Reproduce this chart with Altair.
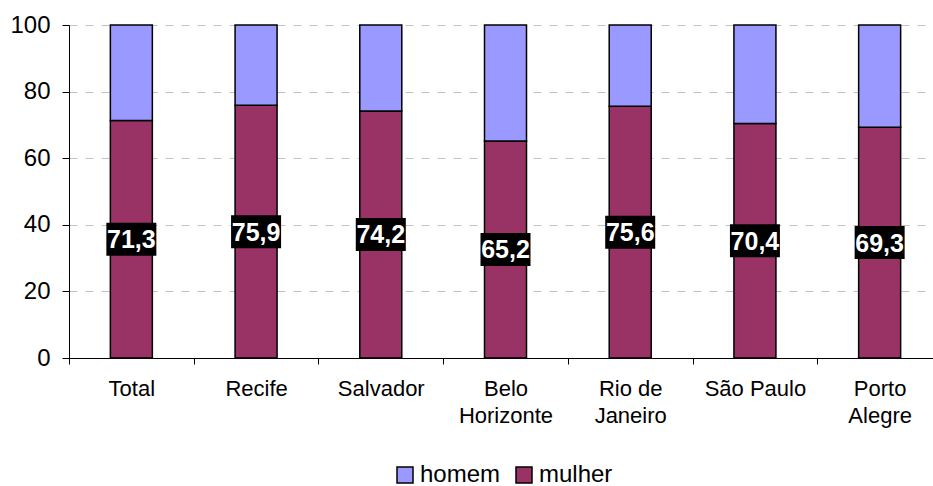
import altair as alt
import pandas as pd

# Participação por sexo (%) em cada região metropolitana
cidades = ["Total", "Recife", "Salvador", "Belo\nHorizonte", "Rio de\nJaneiro", "São Paulo", "Porto\nAlegre"]
mulher = [71.3, 75.9, 74.2, 65.2, 75.6, 70.4, 69.3]
homem = [28.7, 24.1, 25.8, 34.8, 24.4, 29.6, 30.7]
sexos = ["homem", "mulher"]
cores = ["#9999FF", "#993366"]
y_ticks = [0, 20, 40, 60, 80, 100]

FONT = "Liberation Sans"

linhas = []
for c, m, h in zip(cidades, mulher, homem):
    linhas.append({"cidade": c, "sexo": "mulher", "valor": m, "ordem": 0})
    linhas.append({"cidade": c, "sexo": "homem", "valor": h, "ordem": 1})
df = pd.DataFrame(linhas)
df_rot = pd.DataFrame({"cidade": cidades, "mulher": mulher})

x_enc = alt.X(
    "cidade:N",
    sort=cidades,
    scale=alt.Scale(paddingInner=0, paddingOuter=0, range=[0, 873]),
    axis=alt.Axis(
        title=None,
        labelAngle=0,
        labelExpr="split(datum.label, '\\n')",
        tickBand="extent",
        labelFont=FONT,
        labelFontSize=22,
        labelColor="black",
        labelPadding=14,
        labelLineHeight=27,
        tickColor="black",
        tickSize=6,
        domainColor="black",
        grid=False,
    ),
)

barras = alt.Chart(df).mark_bar(size=42, stroke="black", strokeWidth=1.5).encode(
    x=x_enc,
    y=alt.Y(
        "valor:Q",
        stack="zero",
        scale=alt.Scale(domain=[0, 100]),
        axis=alt.Axis(
            title=None,
            values=y_ticks,
            labelFont=FONT,
            labelFontSize=24,
            labelColor="black",
            labelPadding=12,
            tickColor="black",
            tickSize=7,
            domainColor="black",
            grid=True,
            gridColor="#c0c0c0",
            gridDash=[8, 8],
        ),
    ),
    color=alt.Color(
        "sexo:N",
        scale=alt.Scale(domain=sexos, range=cores),
        legend=alt.Legend(
            title=None,
            orient="none",
            direction="horizontal",
            legendX=324,
            legendY=438,
            symbolType="square",
            symbolSize=256,
            symbolStrokeColor="black",
            symbolStrokeWidth=1.5,
            labelFont=FONT,
            labelFontSize=24,
            labelColor="black",
            labelOffset=3,
            columnPadding=11,
            padding=0,
        ),
    ),
    order=alt.Order("ordem:Q"),
)

base_rot = alt.Chart(df_rot).transform_calculate(
    meio="datum.mulher / 2",
    rotulo="replace(format(datum.mulher, '.1f'), '.', ',')",
)

caixas = base_rot.mark_point(
    shape="M-1,-0.66L1,-0.66L1,0.66L-1,0.66Z",
    size=2500,
    filled=True,
    fill="black",
    opacity=1,
    strokeWidth=0,
).encode(x=alt.X("cidade:N", sort=cidades), y=alt.Y("meio:Q"))

textos = base_rot.mark_text(
    color="white", font=FONT, fontWeight="bold", fontSize=25, baseline="middle", dy=1
).encode(x=alt.X("cidade:N", sort=cidades), y=alt.Y("meio:Q"), text="rotulo:N")

chart = (
    alt.layer(barras, caixas, textos)
    .properties(
        width=864,
        height=333,
        autosize=alt.AutoSizeParams(type="none"),
        padding={"left": 69, "top": 25, "right": 0, "bottom": 128},
    )
    .configure_view(stroke=None)
)

chart.save("out.html", embed_options={"renderer": "svg", "actions": False})
